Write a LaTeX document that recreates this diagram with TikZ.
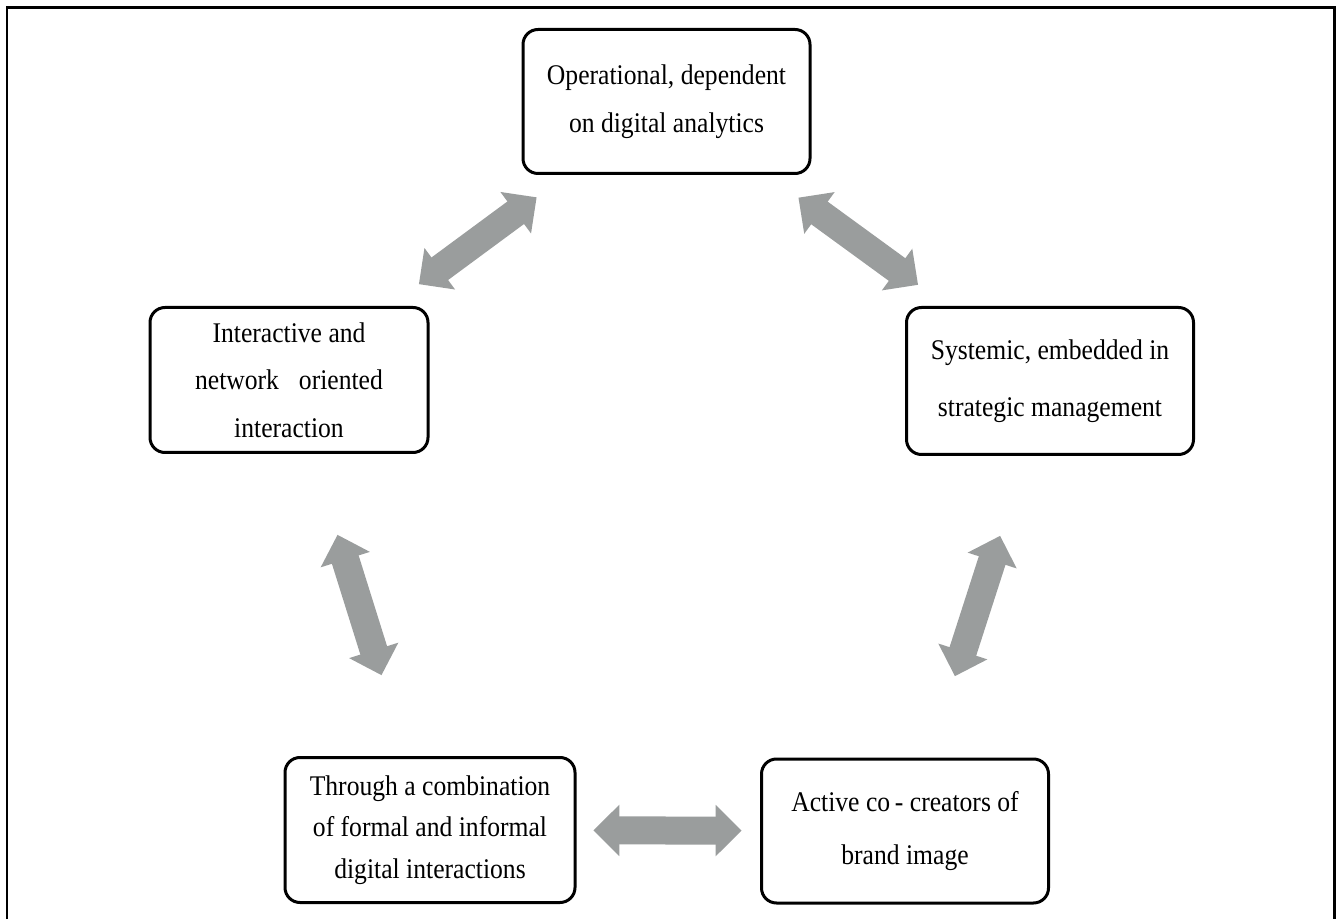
\documentclass[tikz,border=0pt]{standalone}
\usepackage{fontspec}
\setmainfont[FakeStretch=0.9]{Liberation Serif}
\usetikzlibrary{arrows.meta,calc}
\definecolor{arrowgray}{RGB}{154,157,157}
\tikzset{
  stagebox/.style={draw, line width=0.06cm, rounded corners=0.3cm,
    minimum width=5.74cm, minimum height=2.88cm, inner sep=0pt,
    align=center, font=\fontsize{16.2}{27}\selectfont},
  link/.style={draw=arrowgray, line width=0.56cm,
    {Triangle[width=1cm,length=0.52cm]}-{Triangle[width=1cm,length=0.52cm]}},
}
\begin{document}
\begin{tikzpicture}
    \useasboundingbox (0,0) rectangle (26.76,18.38);
    % outer frame, open at the bottom
    \draw[line width=0.06cm] (0.14,0) -- (0.14,18.22) -- (26.68,18.22) -- (26.68,0);
    % the five stages
    \node[stagebox] (top) at (13.33,16.35) {Operational, dependent\\on digital analytics};
    \node[stagebox, minimum width=5.56cm, minimum height=2.9cm] (left) at (5.78,10.78)
        {Interactive and\\network\hspace{0.7em}oriented\\interaction};
    \node[stagebox, minimum height=2.94cm, font=\fontsize{16.2}{32.4}\selectfont] (right) at (21.0,10.76)
        {Systemic, embedded in\\strategic management};
    \node[stagebox, minimum width=5.8cm, minimum height=2.9cm, font=\fontsize{16.2}{23.5}\selectfont] (blft) at (8.6,1.78)
        {Through a combination\\of formal and informal\\digital interactions};
    \node[stagebox, font=\fontsize{16.2}{30}\selectfont] (brgt) at (18.1,1.76)
        {Active co\,-\ creators of\\brand image};
    % two-way arrows between neighbouring stages
    \foreach \a/\b in {left/top, top/right, right/brgt, blft/brgt, left/blft}{%
        \draw[link] ($(\a)!0.344!(\b)$) -- ($(\a)!0.656!(\b)$);
    }
\end{tikzpicture}
\end{document}
